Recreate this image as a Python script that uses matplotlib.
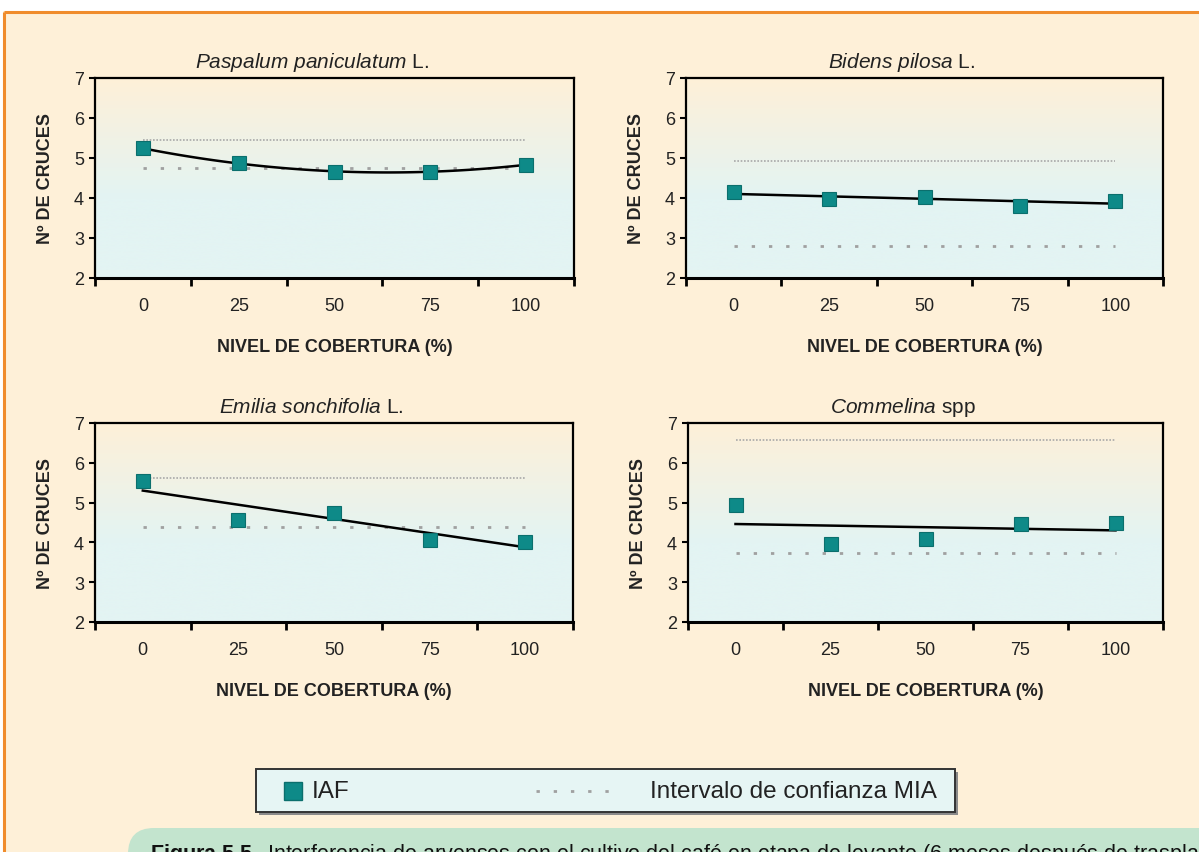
import numpy as np
import matplotlib
matplotlib.use('Agg')
import matplotlib.pyplot as plt
from matplotlib.patches import Rectangle, FancyBboxPatch
from matplotlib.colors import to_rgb

plt.rcParams['font.family'] = ['Liberation Sans', 'DejaVu Sans']
plt.rcParams['mathtext.fontset'] = 'custom'
plt.rcParams['mathtext.rm'] = 'Liberation Sans'
plt.rcParams['mathtext.it'] = 'Liberation Sans:italic'
plt.rcParams['mathtext.bf'] = 'Liberation Sans:bold'

# datos
niveles = ['0', '25', '50', '75', '100']
especies = [r'$\it{Paspalum\ paniculatum}$ L.',
            r'$\it{Bidens\ pilosa}$ L.',
            r'$\it{Emilia\ sonchifolia}$ L.',
            r'$\it{Commelina}$ spp']
iaf_paspalum = [5.24, 4.87, 4.66, 4.66, 4.83]
iaf_bidens = [4.15, 3.98, 4.03, 3.81, 3.93]
iaf_emilia = [5.55, 4.57, 4.74, 4.07, 4.02]
iaf_commelina = [4.93, 3.96, 4.08, 4.46, 4.48]
mia_sup = [5.45, 4.92, 5.61, 6.58]
mia_inf = [4.76, 2.81, 4.39, 3.73]
grado = [2, 1, 1, 1]   # orden de la linea de tendencia

W, H = 1199, 853
crema = '#FEF0D8'
cian = '#E3F4F3'
teal = '#0E8A88'
texto = '#222222'

fig = plt.figure(figsize=(W / 100, H / 100), dpi=100, facecolor=crema)

# fondo: bordes, leyenda y pie de figura en pixeles
bg = fig.add_axes([0, 0, 1, 1], zorder=-1)
bg.set_xlim(0, W)
bg.set_ylim(H, 0)
bg.axis('off')
bg.add_patch(Rectangle((0, 0), W, 12, color='white', lw=0))
bg.add_patch(Rectangle((0, 0), 3, H, color='white', lw=0))
bg.plot([4, W], [13, 13], color='#F08C2C', lw=2.2, solid_capstyle='butt')
bg.plot([4, 4], [13, H], color='#F08C2C', lw=2.2, solid_capstyle='butt')

bg.add_patch(Rectangle((259, 773), 699, 43, color='#8A8A8A', lw=0))
bg.add_patch(Rectangle((256, 770), 699, 43, fc='#E6F5F4', ec='#333333', lw=1.4))
bg.plot(293, 791.5, 's', ms=13, color=teal, mec='#0B6F6D')
bg.text(312, 792, 'IAF', fontsize=17.5, va='center', color=texto)
bg.plot([536, 612], [791.5, 791.5], color='#A0A0A0', lw=2, ls=(0, (1.2, 5)))
bg.text(650, 792, 'Intervalo de confianza MIA', fontsize=17.5, va='center', color=texto)

bg.add_patch(FancyBboxPatch((128, 829), 1200, 100,
                            boxstyle='round,pad=0,rounding_size=26',
                            fc='#C3E4CE', ec='none'))
fig.text(150 / W, -0.008,
         r'$\bf{Figura\ 5.5.}$ Interferencia de arvenses con el cultivo del café en etapa de levante (6 meses después de trasplante)',
         fontsize=15.5, va='baseline', ha='left', color='#111111')

# degradado del area de trazado
c1 = np.array(to_rgb(crema))
c2 = np.array(to_rgb(cian))
t = np.clip(np.linspace(0, 1, 256) / 0.6, 0, 1)[:, None]
grad = (c1 * (1 - t) + c2 * t)[:, None, :]

cajas = [(95, 79, 574, 279), (686, 79, 1163, 279),
         (95, 424, 573, 623), (688, 424, 1163, 623)]
series = [iaf_paspalum, iaf_bidens, iaf_emilia, iaf_commelina]
x = np.arange(len(niveles))

for i, (l, tp, r, b) in enumerate(cajas):
    ax = fig.add_axes([l / W, 1 - b / H, (r - l) / W, (b - tp) / H])
    ax.set_facecolor('none')
    ax.imshow(grad, extent=(-0.5, 4.5, 2, 7), aspect='auto', zorder=0,
              interpolation='bicubic')

    ax.plot([0, 4], [mia_sup[i]] * 2, color='#A8A8A8', lw=1.2, ls=(0, (1, 1)), zorder=2)
    ax.plot([0, 4], [mia_inf[i]] * 2, color='#A0A0A0', lw=2, ls=(0, (1.2, 5)), zorder=2)

    coef = np.polyfit(x, series[i], grado[i])
    xs = np.linspace(0, 4, 100)
    ax.plot(xs, np.polyval(coef, xs), color='black', lw=1.8, zorder=3)
    ax.plot(x, series[i], 's', ms=10, color=teal, mec='#0B6F6D', mew=0.8, zorder=4)

    ax.set_xlim(-0.5, 4.5)
    ax.set_ylim(2, 7)
    ax.set_yticks(range(2, 8))
    ax.set_xticks(np.arange(-0.5, 5, 1))
    ax.set_xticklabels([])
    ax.set_xticks(x, minor=True)
    ax.set_xticklabels(niveles, minor=True)
    ax.tick_params(axis='x', which='major', direction='out', length=6, width=2)
    ax.tick_params(axis='x', which='minor', length=0, pad=14, labelsize=13,
                   labelcolor=texto)
    ax.tick_params(axis='y', direction='out', length=4, width=1.5, pad=4,
                   labelsize=13, labelcolor=texto)
    for s in ax.spines.values():
        s.set_linewidth(1.6)
    ax.spines['bottom'].set_linewidth(2.2)

    ax.set_xlabel('NIVEL DE COBERTURA (%)', fontsize=13, fontweight='bold', color=texto)
    ax.xaxis.set_label_coords(0.5, -60 / (b - tp))
    ax.set_ylabel('Nº DE CRUCES', fontsize=13, fontweight='bold', color=texto)
    ax.yaxis.set_label_coords(-41 / (r - l), 0.5)

    ax.text(0.453, 1 + 11 / (b - tp), especies[i], transform=ax.transAxes,
            fontsize=15, ha='center', va='baseline', color=texto)

fig.savefig('out.png', dpi=100, facecolor=crema)
